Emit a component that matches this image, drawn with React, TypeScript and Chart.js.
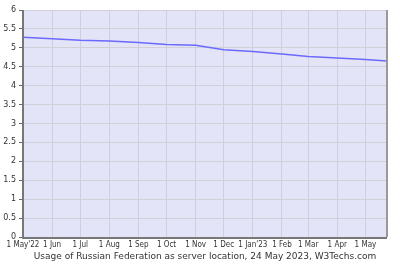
import React, { useEffect, useRef } from "react";
import { Chart, registerables } from "chart.js";

Chart.register(...registerables);

const monthOffsets = [0, 31, 61, 92, 123, 153, 184, 214, 245, 276, 304, 335, 365];
const monthLabels = ["1 May'22", "1 Jun", "1 Jul", "1 Aug", "1 Sep", "1 Oct", "1 Nov", "1 Dec", "1 Jan'23", "1 Feb", "1 Mar", "1 Apr", "1 May"];
const dayValues = [0, 31, 61, 92, 123, 153, 184, 214, 245, 276, 304, 335, 365, 388];
const usageValues = [5.28, 5.24, 5.2, 5.18, 5.14, 5.09, 5.07, 4.95, 4.9, 4.84, 4.77, 4.73, 4.69, 4.65];
const titleText = "Usage of Russian Federation as server location, 24 May 2023, W3Techs.com";

const framePlugin = {
  id: "frame",
  beforeDraw(chart: any) {
    const { ctx, chartArea: a } = chart;
    ctx.save();
    ctx.fillStyle = "#e4e4f8";
    ctx.fillRect(a.left, a.top, a.right - a.left, a.bottom - a.top);
    ctx.restore();
  },
  afterDraw(chart: any) {
    const { ctx, chartArea: a } = chart;
    ctx.save();
    ctx.strokeStyle = "#999";
    ctx.lineWidth = 2;
    ctx.beginPath();
    ctx.moveTo(a.right, a.top);
    ctx.lineTo(a.right, a.bottom);
    ctx.stroke();
    ctx.strokeStyle = "#777";
    ctx.beginPath();
    ctx.moveTo(a.left, a.top);
    ctx.lineTo(a.left, a.bottom + 1);
    ctx.lineTo(a.right, a.bottom + 1);
    ctx.stroke();
    ctx.fillStyle = "#333";
    ctx.font = "9px 'DejaVu Sans'";
    ctx.textAlign = "center";
    ctx.textBaseline = "middle";
    ctx.fillText(titleText, (a.left + a.right) / 2, 257);
    ctx.restore();
  },
};

export default function App() {
  const ref = useRef<HTMLCanvasElement>(null);
  useEffect(() => {
    const chart = new Chart(ref.current!, {
      type: "line",
      data: {
        datasets: [
          {
            data: dayValues.map((d, i) => ({ x: d, y: usageValues[i] })),
            borderColor: "#6a6aff",
            borderWidth: 1.5,
            pointRadius: 0,
            tension: 0,
            fill: false,
          },
        ],
      },
      options: {
        animation: false,
        responsive: false,
        devicePixelRatio: 1,
        layout: { padding: { left: 0, right: 13, top: 10, bottom: 0 } },
        plugins: { legend: { display: false }, tooltip: { enabled: false }, title: { display: false } },
        scales: {
          x: {
            type: "linear",
            min: 0,
            max: 388,
            afterBuildTicks: (scale: any) => {
              scale.ticks = monthOffsets.map((v) => ({ value: v }));
            },
            afterFit: (scale: any) => {
              scale.height = 30;
            },
            grid: { color: "#d0d0d8", drawTicks: false, lineWidth: 1 },
            border: { display: false },
            ticks: {
              padding: 3,
              maxRotation: 0,
              autoSkip: false,
              color: "#333",
              font: { family: "'DejaVu Sans Condensed', 'DejaVu Sans'", size: 8 },
              callback: (v: any) => {
                const i = monthOffsets.indexOf(Number(v));
                return i >= 0 ? monthLabels[i] : "";
              },
            },
          },
          y: {
            min: 0,
            max: 6,
            afterFit: (scale: any) => {
              scale.width = 23;
            },
            grid: { color: "#d0d0d8", tickColor: "#666", tickLength: 4, lineWidth: 1 },
            border: { display: false },
            ticks: {
              stepSize: 0.5,
              padding: 3,
              color: "#333",
              font: { family: "'DejaVu Sans'", size: 8 },
              callback: (v: any) => String(Number(v)),
            },
          },
        },
      },
      plugins: [framePlugin],
    });
    return () => chart.destroy();
  }, []);
  return (
    <div style={{ position: "absolute", left: 0, top: 0, width: 400, height: 267, background: "#fff" }}>
      <canvas ref={ref} width={400} height={267} style={{ width: 400, height: 267 }} />
    </div>
  );
}
